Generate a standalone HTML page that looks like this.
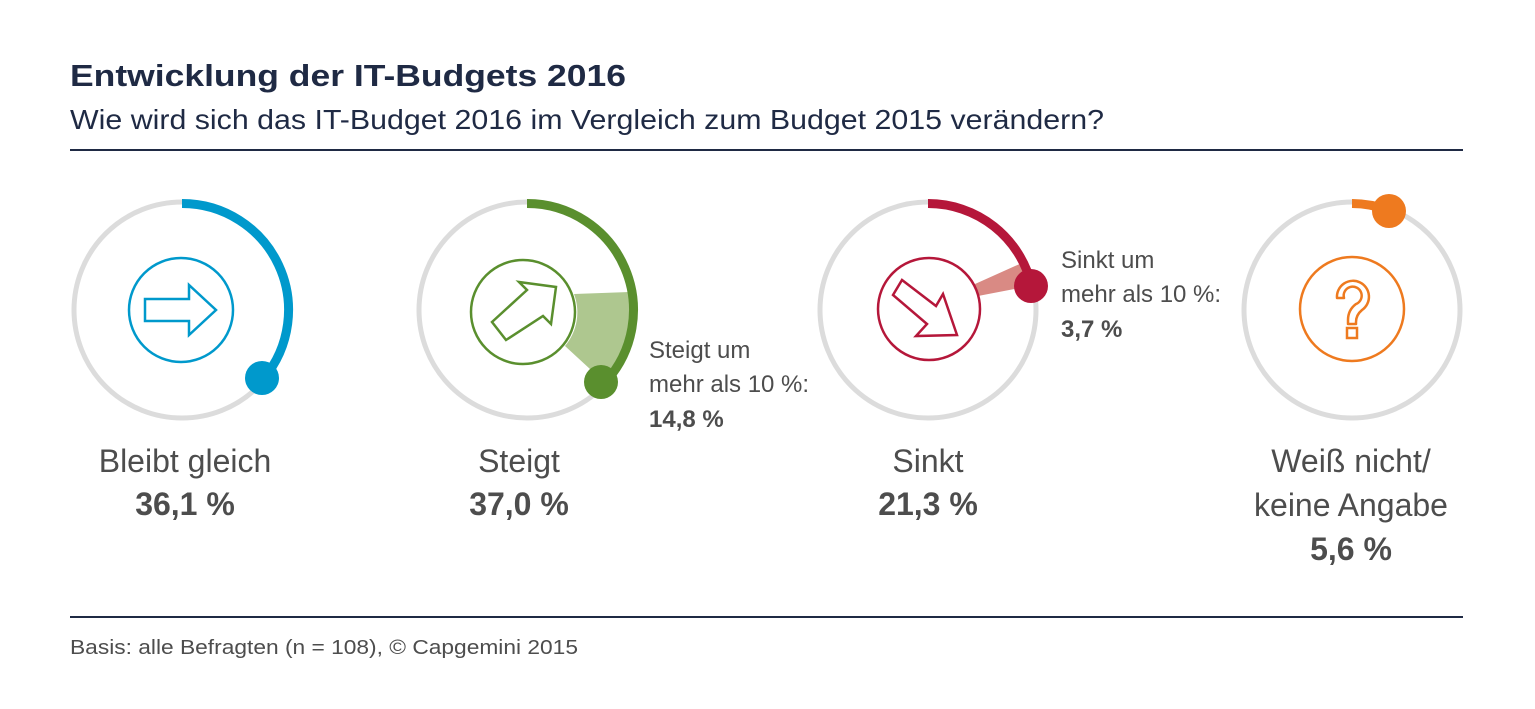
<!DOCTYPE html>
<html><head><meta charset="utf-8"><style>
html,body{margin:0;padding:0;background:#fff;}
svg{display:block;font-family:"Liberation Sans",sans-serif;}
</style></head><body>
<svg width="1535" height="709" viewBox="0 0 1535 709" xmlns="http://www.w3.org/2000/svg">
<text x="70" y="86" font-size="31" font-weight="bold" fill="#1f2a44" textLength="556" lengthAdjust="spacingAndGlyphs">Entwicklung der IT-Budgets 2016</text>
<text x="70" y="129" font-size="28" fill="#1f2a44" textLength="1034" lengthAdjust="spacingAndGlyphs">Wie wird sich das IT-Budget 2016 im Vergleich zum Budget 2015 verändern?</text>
<line x1="70" y1="150" x2="1463" y2="150" stroke="#1f2a44" stroke-width="2"/>
<line x1="70" y1="617" x2="1463" y2="617" stroke="#1f2a44" stroke-width="2"/>
<text x="70" y="654" font-size="20" fill="#4d4d4d" textLength="508" lengthAdjust="spacingAndGlyphs">Basis: alle Befragten (n = 108), © Capgemini 2015</text>

<g fill="none" stroke="#dcdcdc" stroke-width="5">
<circle cx="182" cy="310" r="108"/><circle cx="527" cy="310" r="108"/><circle cx="928" cy="310" r="108"/><circle cx="1352" cy="310" r="108"/>
</g>

<!-- circle 1 blue 36.1% -->
<path d="M182 203.5 A106.5 106.5 0 0 1 263.6 378.5" fill="none" stroke="#0099cc" stroke-width="9"/>
<circle cx="262" cy="378" r="17" fill="#0099cc"/>
<circle cx="181" cy="310" r="52" fill="none" stroke="#0099cc" stroke-width="2.5"/>
<path d="M145 299 L189 299 L189 285 L216 310 L189 335 L189 321 L145 321 Z" fill="none" stroke="#0099cc" stroke-width="2.5" stroke-linejoin="miter"/>

<!-- circle 2 green -->
<path d="M629.4 292 A104 104 0 0 1 603 381 L565 346 A52 52 0 0 0 574 294 Z" fill="#aec78f"/>
<path d="M527 203.5 A106.5 106.5 0 0 1 604.9 382.6" fill="none" stroke="#5a8f2e" stroke-width="9"/>
<circle cx="601" cy="382" r="17" fill="#5a8f2e"/>
<circle cx="523" cy="312" r="52" fill="none" stroke="#5a8f2e" stroke-width="2.5"/>
<path d="M492 322 L527 290 L519 282 L556 287 L551 324 L543 316 L506 340 Z" fill="none" stroke="#5a8f2e" stroke-width="2.5"/>
<text font-size="24" fill="#4d4d4d"><tspan x="649" y="358">Steigt um</tspan><tspan x="649" y="392">mehr als 10 %:</tspan></text>
<text x="649" y="427" font-size="24" font-weight="bold" fill="#4d4d4d">14,8 %</text>

<!-- circle 3 red -->
<path d="M1024 262 A104 104 0 0 1 1030 286 L978 296 A51 51 0 0 0 975 284 Z" fill="#d98a84"/>
<path d="M928 203.5 A106.5 106.5 0 0 1 1031.6 285.5" fill="none" stroke="#b5173a" stroke-width="9"/>
<circle cx="1031" cy="286" r="17" fill="#b5173a"/>
<circle cx="929" cy="309" r="51" fill="none" stroke="#b5173a" stroke-width="2.5"/>
<path d="M893 295 L902 280 L936 306 L943 294 L957 335 L916 336 L927 324 Z" fill="none" stroke="#b5173a" stroke-width="2.5"/>
<text font-size="24" fill="#4d4d4d"><tspan x="1061" y="268">Sinkt um</tspan><tspan x="1061" y="302">mehr als 10 %:</tspan></text>
<text x="1061" y="337" font-size="24" font-weight="bold" fill="#4d4d4d">3,7 %</text>

<!-- circle 4 orange -->
<path d="M1352 203.5 A106.5 106.5 0 0 1 1388 210" fill="none" stroke="#ee7a1f" stroke-width="9"/>
<circle cx="1389" cy="211" r="17" fill="#ee7a1f"/>
<circle cx="1352" cy="309" r="52" fill="none" stroke="#ee7a1f" stroke-width="2.5"/>
<path d="M1337 298 A16 16 0 1 1 1362 310 Q1356 315 1356 322 L1356 324 L1348 324 L1348 320 Q1348 310 1356 304 A9 9 0 1 0 1344 298 Z" fill="none" stroke="#ee7a1f" stroke-width="2.5" stroke-linejoin="round"/>
<rect x="1347" y="328" width="10" height="10" fill="none" stroke="#ee7a1f" stroke-width="2.5"/>

<g font-size="32" fill="#4d4d4d" text-anchor="middle">
<text x="185" y="472">Bleibt gleich</text>
<text x="519" y="472">Steigt</text>
<text x="928" y="472">Sinkt</text>
<text x="1351" y="472">Weiß nicht/</text>
<text x="1351" y="516">keine Angabe</text>
</g>
<g font-size="32" fill="#4d4d4d" text-anchor="middle" font-weight="bold">
<text x="185" y="515">36,1 %</text>
<text x="519" y="515">37,0 %</text>
<text x="928" y="515">21,3 %</text>
<text x="1351" y="560">5,6 %</text>
</g>
</svg>
</body></html>
